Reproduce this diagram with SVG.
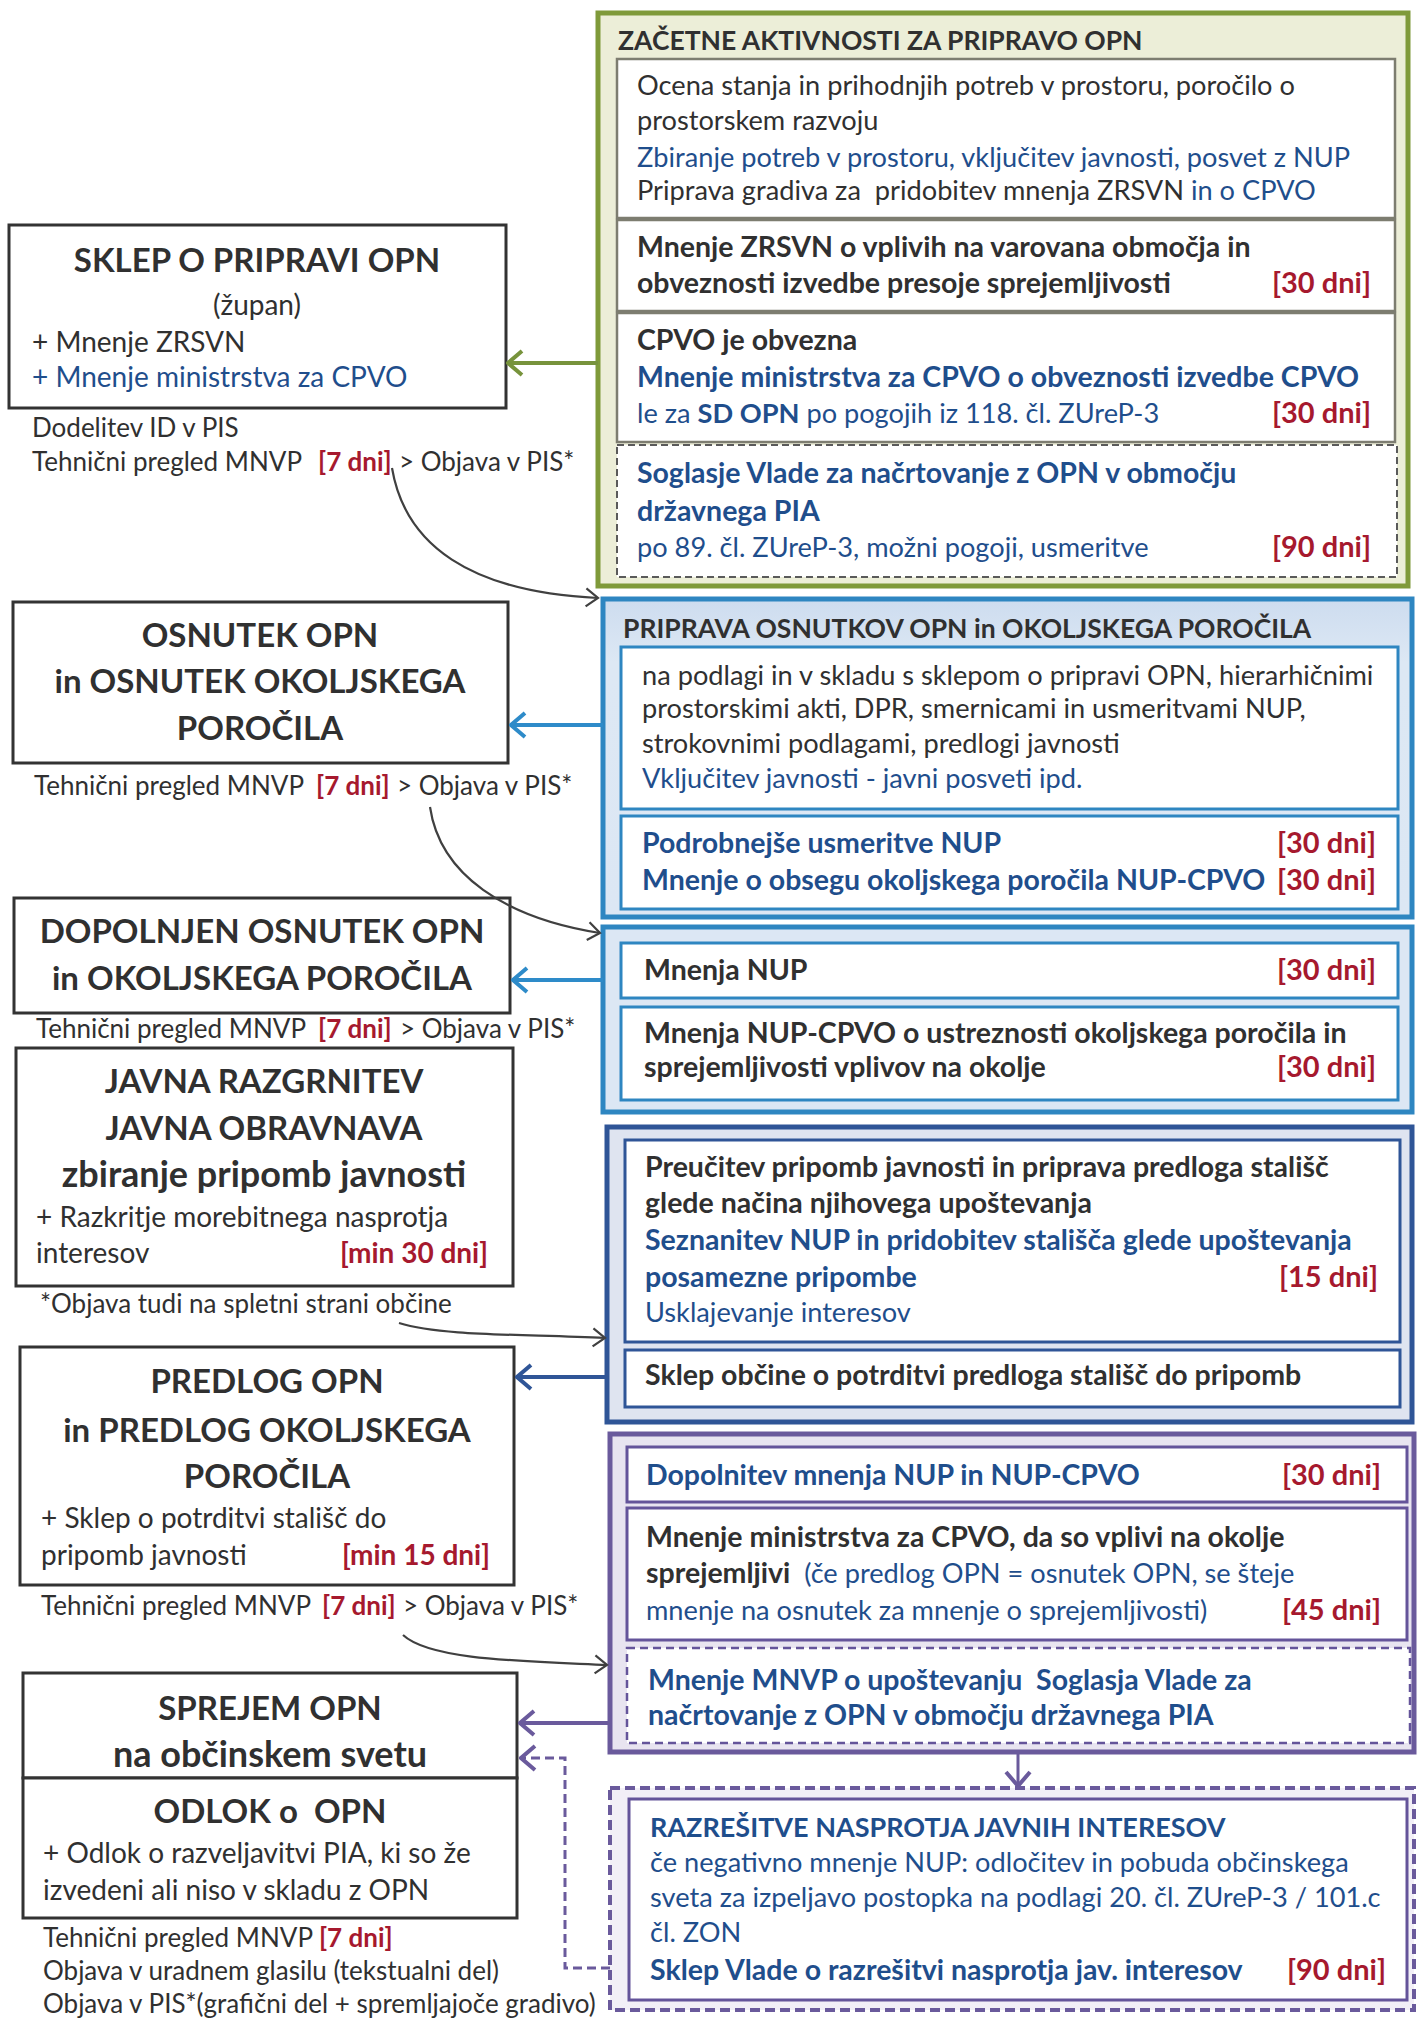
<svg xmlns="http://www.w3.org/2000/svg" width="1417" height="2018" viewBox="0 0 1417 2018">
<defs>
<style>
text{font-family:Lato,"Open Sans","Noto Sans",sans-serif;fill:#303030}
.t{font-size:27.2px}
.b{font-weight:bold;font-size:28.5px}
.bl{fill:#1f4e8c}
.r{fill:#a6192e;font-weight:bold;font-size:29px}
.e{text-anchor:end}
.h{font-size:33px;font-weight:bold;text-anchor:middle}
.hl{font-size:36px}
.hs{font-size:28px;text-anchor:middle}
.s{font-size:26px}
.s .r,.s.r{font-size:26px}
.m{font-size:28px}
.m.r{font-size:28px}
.ttl{font-size:26.5px;font-weight:bold}
.pre{white-space:pre}
.lbox{fill:#fff;stroke:#333;stroke-width:3}
.gi{fill:#fff;stroke:#7d7d70;stroke-width:2.5}
.bi{fill:#fff;stroke:#2e86c1;stroke-width:3}
.di{fill:#fff;stroke:#2f5597;stroke-width:3}
.pi{fill:#fff;stroke:#64549a;stroke-width:3}
.thin{fill:none;stroke:#404040;stroke-width:2.2}
</style>
<marker id="ag" viewBox="-17 -15 19 30" markerWidth="19" markerHeight="30" refX="0" refY="0" orient="auto" markerUnits="userSpaceOnUse"><path d="M-14,-12 L0,0 L-14,12" fill="none" stroke="#77933c" stroke-width="4"/></marker>
<marker id="ab" viewBox="-17 -15 19 30" markerWidth="19" markerHeight="30" refX="0" refY="0" orient="auto" markerUnits="userSpaceOnUse"><path d="M-14,-12 L0,0 L-14,12" fill="none" stroke="#2e8bc9" stroke-width="4"/></marker>
<marker id="ad" viewBox="-17 -15 19 30" markerWidth="19" markerHeight="30" refX="0" refY="0" orient="auto" markerUnits="userSpaceOnUse"><path d="M-14,-12 L0,0 L-14,12" fill="none" stroke="#2f5597" stroke-width="4"/></marker>
<marker id="ap" viewBox="-17 -15 19 30" markerWidth="19" markerHeight="30" refX="0" refY="0" orient="auto" markerUnits="userSpaceOnUse"><path d="M-14,-12 L0,0 L-14,12" fill="none" stroke="#6a5a9c" stroke-width="4"/></marker>
<marker id="at" viewBox="-14 -11 16 22" markerWidth="16" markerHeight="22" refX="0" refY="0" orient="auto" markerUnits="userSpaceOnUse"><path d="M-12,-9 L0,0 L-12,9" fill="none" stroke="#404040" stroke-width="2.2"/></marker>
<linearGradient id="gB" x1="0" y1="0" x2="0" y2="1"><stop offset="0" stop-color="#cddcef"/><stop offset="0.2" stop-color="#dde8f4"/><stop offset="1" stop-color="#dce7f4"/></linearGradient>
</defs>

<!-- ===== Right containers ===== -->
<g id="zacetne">
<rect x="598" y="13" width="810" height="573" fill="#eceed8" stroke="#7f9a3a" stroke-width="5"/>
<text class="ttl" x="618" y="50">ZAČETNE AKTIVNOSTI ZA PRIPRAVO OPN</text>
<rect class="gi" x="617" y="59" width="778" height="159"/>
<text class="t" x="637" y="95">Ocena stanja in prihodnjih potreb v prostoru, poročilo o</text>
<text class="t" x="637" y="130">prostorskem razvoju</text>
<text class="t bl" x="637" y="167">Zbiranje potreb v prostoru, vključitev javnosti, posvet z NUP</text>
<text class="t pre" x="637" y="200">Priprava gradiva za  pridobitev mnenja ZRSVN <tspan class="bl">in o CPVO</tspan></text>
<rect class="gi" x="617" y="220" width="778" height="91"/>
<text class="b" x="637" y="257">Mnenje ZRSVN o vplivih na varovana območja in</text>
<text class="b" x="637" y="293">obveznosti izvedbe presoje sprejemljivosti</text>
<text class="r e" x="1371" y="293">[30 dni]</text>
<rect class="gi" x="617" y="313" width="778" height="129"/>
<text class="b" x="637" y="350">CPVO je obvezna</text>
<text class="b bl" x="637" y="387">Mnenje ministrstva za CPVO o obveznosti izvedbe CPVO</text>
<text class="t bl" x="637" y="423">le za <tspan style="font-weight:bold">SD OPN</tspan> po pogojih iz 118. čl. ZUreP-3</text>
<text class="r e" x="1371" y="423">[30 dni]</text>
<rect x="617" y="445" width="780" height="132" fill="#fff" stroke="#5a5a5a" stroke-width="2" stroke-dasharray="7,4"/>
<text class="b bl" x="637" y="483">Soglasje Vlade za načrtovanje z OPN v območju</text>
<text class="b bl" x="637" y="521">državnega PIA</text>
<text class="t bl" x="637" y="557">po 89. čl. ZUreP-3, možni pogoji, usmeritve</text>
<text class="r e" x="1371" y="557">[90 dni]</text>
</g>

<g id="priprava-osnutkov">
<rect x="603" y="599" width="809" height="318" fill="url(#gB)" stroke="#2e86c1" stroke-width="5"/>
<text class="ttl" x="623" y="638">PRIPRAVA OSNUTKOV OPN in OKOLJSKEGA POROČILA</text>
<rect class="bi" x="621" y="647" width="777" height="162"/>
<text class="t" x="642" y="685">na podlagi in v skladu s sklepom o pripravi OPN, hierarhičnimi</text>
<text class="t" x="642" y="718">prostorskimi akti, DPR, smernicami in usmeritvami NUP,</text>
<text class="t" x="642" y="753">strokovnimi podlagami, predlogi javnosti</text>
<text class="t bl" x="642" y="788">Vključitev javnosti - javni posveti ipd.</text>
<rect class="bi" x="621" y="816" width="777" height="93"/>
<text class="b bl" x="642" y="853">Podrobnejše usmeritve NUP</text>
<text class="r e" x="1376" y="853">[30 dni]</text>
<text class="b bl" x="642" y="890">Mnenje o obsegu okoljskega poročila NUP-CPVO</text>
<text class="r e" x="1376" y="890">[30 dni]</text>
</g>

<g id="mnenja-nup">
<rect x="603" y="927" width="809" height="185" fill="#dce7f4" stroke="#2e86c1" stroke-width="5"/>
<rect class="bi" x="621" y="943" width="777" height="55"/>
<text class="b" x="644" y="980">Mnenja NUP</text>
<text class="r e" x="1376" y="980">[30 dni]</text>
<rect class="bi" x="621" y="1007" width="777" height="93"/>
<text class="b" x="644" y="1043">Mnenja NUP-CPVO o ustreznosti okoljskega poročila in</text>
<text class="b" x="644" y="1077">sprejemljivosti vplivov na okolje</text>
<text class="r e" x="1376" y="1077">[30 dni]</text>
</g>

<g id="preucitev">
<rect x="607" y="1127" width="805" height="295" fill="#dfe4f0" stroke="#2f5597" stroke-width="5"/>
<rect class="di" x="625" y="1140" width="775" height="202"/>
<text class="b" x="645" y="1177">Preučitev pripomb javnosti in priprava predloga stališč</text>
<text class="b" x="645" y="1213">glede načina njihovega upoštevanja</text>
<text class="b bl" x="645" y="1250">Seznanitev NUP in pridobitev stališča glede upoštevanja</text>
<text class="b bl" x="645" y="1287">posamezne pripombe</text>
<text class="r e" x="1378" y="1287">[15 dni]</text>
<text class="t bl" x="645" y="1322">Usklajevanje interesov</text>
<rect class="di" x="625" y="1350" width="775" height="57"/>
<text class="b" x="645" y="1385">Sklep občine o potrditvi predloga stališč do pripomb</text>
</g>

<g id="dopolnitev">
<rect x="610" y="1434" width="804" height="318" fill="#e8e4f0" stroke="#6a5a9c" stroke-width="5"/>
<rect class="pi" x="627" y="1447" width="780" height="55"/>
<text class="b bl" x="646" y="1485">Dopolnitev mnenja NUP in NUP-CPVO</text>
<text class="r e" x="1381" y="1485">[30 dni]</text>
<rect class="pi" x="627" y="1508" width="780" height="132"/>
<text class="b" x="646" y="1547">Mnenje ministrstva za CPVO, da so vplivi na okolje</text>
<text class="b pre" x="646" y="1583">sprejemljivi  <tspan class="bl" style="font-weight:normal;font-size:27.2px">(če predlog OPN = osnutek OPN, se šteje</tspan></text>
<text class="t bl" x="646" y="1620">mnenje na osnutek za mnenje o sprejemljivosti)</text>
<text class="r e" x="1381" y="1620">[45 dni]</text>
<rect x="627" y="1648" width="783" height="95" fill="#fff" stroke="#64549a" stroke-width="2.5" stroke-dasharray="8,5"/>
<text class="b bl pre" x="648" y="1690">Mnenje MNVP o upoštevanju  Soglasja Vlade za</text>
<text class="b bl" x="648" y="1725">načrtovanje z OPN v območju državnega PIA</text>
</g>

<g id="razresitve">
<rect x="610" y="1788" width="804" height="222" fill="#f2eff7" stroke="#6a5a9c" stroke-width="4" stroke-dasharray="10,5"/>
<rect class="pi" x="629" y="1799" width="778" height="201"/>
<text class="b bl" x="650" y="1837" style="font-size:27px">RAZREŠITVE NASPROTJA JAVNIH INTERESOV</text>
<text class="t bl" x="650" y="1872">če negativno mnenje NUP: odločitev in pobuda občinskega</text>
<text class="t bl" x="650" y="1907">sveta za izpeljavo postopka na podlagi 20. čl. ZUreP-3 / 101.c</text>
<text class="t bl" x="650" y="1942">čl. ZON</text>
<text class="b bl" x="650" y="1980">Sklep Vlade o razrešitvi nasprotja jav. interesov</text>
<text class="r e" x="1386" y="1980">[90 dni]</text>
</g>

<!-- ===== Left nodes ===== -->
<g id="sklep">
<rect class="lbox" x="9" y="225" width="497" height="183"/>
<text class="h" x="257" y="272">SKLEP O PRIPRAVI OPN</text>
<text class="hs" x="257" y="315">(župan)</text>
<text class="m" x="32" y="352">+ Mnenje ZRSVN</text>
<text class="m bl" x="32" y="387">+ Mnenje ministrstva za CPVO</text>
<text class="s" x="32" y="437">Dodelitev ID v PIS</text>
<text class="s" x="32" y="471">Tehnični pregled MNVP</text>
<text class="s r" x="318" y="471">[7 dni]</text>
<text class="s" x="399" y="471">&gt; Objava v PIS*</text>
</g>

<g id="osnutek">
<rect class="lbox" x="13" y="602" width="495" height="161"/>
<text class="h" x="260" y="647">OSNUTEK OPN</text>
<text class="h" x="260" y="693">in OSNUTEK OKOLJSKEGA</text>
<text class="h" x="260" y="740">POROČILA</text>
<text class="s" x="34" y="795">Tehnični pregled MNVP</text>
<text class="s r" x="316" y="795">[7 dni]</text>
<text class="s" x="397" y="795">&gt; Objava v PIS*</text>
</g>

<g id="dopolnjen">
<rect class="lbox" x="14" y="898" width="496" height="115"/>
<text class="h" x="262" y="943">DOPOLNJEN OSNUTEK OPN</text>
<text class="h" x="262" y="990">in OKOLJSKEGA POROČILA</text>
<text class="s" x="36" y="1038">Tehnični pregled MNVP</text>
<text class="s r" x="318" y="1038">[7 dni]</text>
<text class="s" x="400" y="1038">&gt; Objava v PIS*</text>
</g>

<g id="javna">
<rect class="lbox" x="16" y="1048" width="497" height="238"/>
<text class="h" x="264" y="1093">JAVNA RAZGRNITEV</text>
<text class="h" x="264" y="1140">JAVNA OBRAVNAVA</text>
<text class="h hl" x="264" y="1187">zbiranje pripomb javnosti</text>
<text class="m" x="36" y="1227">+ Razkritje morebitnega nasprotja</text>
<text class="m" x="36" y="1263">interesov</text>
<text class="m r e" x="488" y="1263">[min 30 dni]</text>
<text class="s" x="40" y="1313">*Objava tudi na spletni strani občine</text>
</g>

<g id="predlog">
<rect class="lbox" x="20" y="1347" width="494" height="238"/>
<text class="h" x="267" y="1393">PREDLOG OPN</text>
<text class="h" x="267" y="1442">in PREDLOG OKOLJSKEGA</text>
<text class="h" x="267" y="1488">POROČILA</text>
<text class="m" x="41" y="1528">+ Sklep o potrditvi stališč do</text>
<text class="m" x="41" y="1565">pripomb javnosti</text>
<text class="m r e" x="490" y="1565">[min 15 dni]</text>
<text class="s" x="41" y="1615">Tehnični pregled MNVP</text>
<text class="s r" x="322" y="1615">[7 dni]</text>
<text class="s" x="403" y="1615">&gt; Objava v PIS*</text>
</g>

<g id="sprejem">
<rect class="lbox" x="23" y="1673" width="494" height="105"/>
<text class="h" x="270" y="1720">SPREJEM OPN</text>
<text class="h hl" x="270" y="1767">na občinskem svetu</text>
</g>

<g id="odlok">
<rect class="lbox" x="23" y="1778" width="494" height="140"/>
<text class="h pre" x="270" y="1823">ODLOK o  OPN</text>
<text class="m" x="43" y="1863">+ Odlok o razveljavitvi PIA, ki so že</text>
<text class="m" x="43" y="1900">izvedeni ali niso v skladu z OPN</text>
<text class="s" x="43" y="1947">Tehnični pregled MNVP <tspan class="r" style="font-size:26px">[7 dni]</tspan></text>
<text class="s" x="43" y="1980">Objava v uradnem glasilu (tekstualni del)</text>
<text class="s" x="43" y="2013">Objava v PIS*(grafični del + spremljajoče gradivo)</text>
</g>

<!-- ===== Connectors ===== -->
<g id="connectors">
<line x1="598" y1="363" x2="508" y2="363" stroke="#77933c" stroke-width="4" marker-end="url(#ag)"/>
<line x1="603" y1="725" x2="511" y2="725" stroke="#2e8bc9" stroke-width="4" marker-end="url(#ab)"/>
<line x1="603" y1="980" x2="513" y2="980" stroke="#2e8bc9" stroke-width="4" marker-end="url(#ab)"/>
<line x1="607" y1="1377" x2="517" y2="1377" stroke="#2f5597" stroke-width="4" marker-end="url(#ad)"/>
<line x1="610" y1="1723" x2="520" y2="1723" stroke="#6a5a9c" stroke-width="4" marker-end="url(#ap)"/>
<line x1="1018" y1="1754" x2="1018" y2="1786" stroke="#6a5a9c" stroke-width="3" marker-end="url(#ap)"/>
<path d="M610,1968 H565 V1758 H521" fill="none" stroke="#6a5a9c" stroke-width="3" stroke-dasharray="9,5" marker-end="url(#ap)"/>
<path class="thin" d="M392,468 C405,545 470,592 598,598" marker-end="url(#at)"/>
<path class="thin" d="M430,807 C440,875 505,918 600,933" marker-end="url(#at)"/>
<path class="thin" d="M399,1323 C440,1336 520,1334 605,1338" marker-end="url(#at)"/>
<path class="thin" d="M403,1635 C430,1660 520,1661 607,1665" marker-end="url(#at)"/>
</g>
</svg>
